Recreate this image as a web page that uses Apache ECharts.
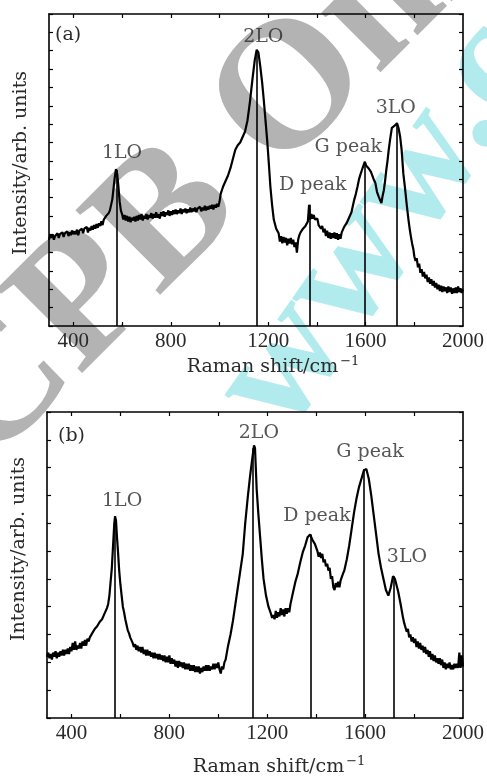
<!DOCTYPE html>
<html>
<head>
<meta charset="utf-8">
<script src="https://cdn.jsdelivr.net/npm/echarts@6/dist/echarts.min.js"></script>
<style>
  html, body { margin: 0; padding: 0; background: #fff; }
  #main { width: 487px; height: 778px; }
</style>
</head>
<body>
<div id="main"></div>
<script>
// [Raman shift (cm-1), intensity (arb. units, in y-tick steps)]
var spectrumA = [
  [300,4.7],[305,4.95],[310,4.8],[315,5.0],[320,4.7],[325,4.9],[330,4.85],[335,5.05],[340,4.8],[345,5.0],
  [350,4.9],[355,5.1],[360,4.85],[365,5.05],[370,4.95],[375,5.15],[380,4.9],[385,5.1],[390,4.95],[395,5.2],
  [400,5.0],[405,5.15],[410,5.0],[415,5.25],[420,4.95],[425,5.2],[430,5.1],[435,5.3],[440,5.05],[445,5.3],
  [450,5.2],[455,5.4],[460,5.1],[465,5.35],[470,5.2],[475,5.45],[480,5.25],[485,5.5],[490,5.3],[495,5.55],
  [500,5.35],[505,5.6],[510,5.45],[515,5.7],[520,5.5],[525,5.8],[530,5.75],[535,6.0],[540,5.9],[545,6.15],
  [550,6.3],[555,6.6],[560,6.9],[565,7.5],[570,8.1],[575,8.55],[580,8.3],[585,7.6],[590,6.8],[595,6.3],
  [600,6.1],[605,5.8],[610,6.05],[615,5.75],[620,6.0],[625,5.7],[630,5.95],[635,5.65],[640,5.9],[645,5.75],
  [650,5.95],[655,5.7],[660,6.0],[665,5.75],[670,6.05],[675,5.8],[680,6.1],[685,5.75],[690,6.0],[695,5.85],
  [700,6.1],[705,5.8],[710,6.05],[715,5.9],[720,6.15],[725,5.85],[730,6.1],[735,5.9],[740,6.2],[745,5.9],
  [750,6.1],[755,5.85],[760,6.2],[765,6.0],[770,6.25],[775,5.95],[780,6.2],[785,6.05],[790,6.3],[795,6.0],
  [800,6.25],[805,6.05],[810,6.3],[815,6.1],[820,6.35],[825,6.1],[830,6.3],[835,6.15],[840,6.4],[845,6.1],
  [850,6.35],[855,6.2],[860,6.4],[865,6.15],[870,6.35],[875,6.2],[880,6.45],[885,6.2],[890,6.4],[895,6.25],
  [900,6.45],[905,6.2],[910,6.4],[915,6.3],[920,6.5],[925,6.25],[930,6.45],[935,6.3],[940,6.55],[945,6.3],
  [950,6.5],[955,6.35],[960,6.55],[965,6.4],[970,6.6],[975,6.35],[980,6.6],[985,6.45],[990,6.65],[995,6.5],
  [1000,6.75],[1005,7.2],[1015,7.6],[1025,7.9],[1035,8.2],[1045,8.6],[1055,9.1],[1065,9.6],[1075,9.85],[1085,10.0],
  [1095,10.3],[1105,10.6],[1115,11.2],[1125,12.2],[1135,13.4],[1145,14.5],[1153,15.05],[1160,14.9],[1167,14.2],[1175,13.3],
  [1182,12.3],[1189,11.2],[1196,10.1],[1203,8.8],[1209,7.6],[1216,6.6],[1223,5.8],[1233,5.3],[1243,5.05],[1248,4.6],
  [1253,4.9],[1258,4.5],[1263,4.85],[1268,4.55],[1273,4.8],[1278,4.4],[1283,4.75],[1288,4.5],[1293,4.8],[1298,4.45],
  [1303,4.7],[1308,4.3],[1313,4.55],[1318,4.0],[1323,4.7],[1328,4.95],[1333,5.1],[1338,5.0],[1343,5.3],[1348,5.2],
  [1353,5.45],[1358,5.35],[1363,5.7],[1368,6.6],[1372,5.8],[1377,6.1],[1382,5.85],[1387,6.05],[1392,5.8],[1397,5.7],
  [1402,5.85],[1407,5.5],[1412,5.6],[1417,5.3],[1422,5.45],[1427,5.1],[1432,5.3],[1437,4.9],[1442,5.2],[1447,4.8],
  [1452,5.1],[1457,4.75],[1462,5.05],[1467,4.8],[1472,5.1],[1477,4.75],[1482,5.05],[1487,4.7],[1492,5.0],[1497,4.75],
  [1502,5.1],[1507,5.0],[1512,5.4],[1517,5.3],[1522,5.6],[1527,5.55],[1532,5.9],[1537,5.85],[1542,6.2],[1547,6.3],
  [1553,6.86],[1560,7.2],[1567,7.6],[1573,8.0],[1580,8.3],[1585,8.5],[1590,8.7],[1597,8.95],[1602,8.75],[1607,8.85],
  [1612,8.6],[1617,8.65],[1622,8.4],[1627,8.3],[1633,8.0],[1640,7.8],[1647,7.3],[1654,7.05],[1660,6.85],[1665,6.7],
  [1670,7.1],[1675,7.4],[1680,7.9],[1685,8.5],[1690,9.0],[1695,9.6],[1701,10.2],[1708,10.8],[1713,10.7],[1718,10.9],
  [1723,10.8],[1729,11.05],[1735,10.8],[1742,10.3],[1748,9.6],[1755,8.3],[1762,7.5],[1769,6.6],[1776,5.8],[1781,5.3],
  [1786,4.87],[1791,4.5],[1796,4.2],[1800,3.8],[1805,3.55],[1810,3.7],[1815,3.2],[1820,3.4],[1825,2.9],[1830,3.1],
  [1835,2.7],[1840,2.95],[1845,2.6],[1850,2.8],[1855,2.4],[1860,2.65],[1865,2.3],[1870,2.55],[1875,2.2],[1880,2.45],
  [1885,2.1],[1890,2.35],[1895,2.0],[1900,2.25],[1905,1.9],[1910,2.2],[1915,1.85],[1920,2.15],[1925,1.9],[1930,2.1],
  [1935,1.8],[1940,2.15],[1945,1.85],[1950,2.1],[1955,1.75],[1960,2.05],[1965,1.8],[1970,2.1],[1975,1.8],[1980,2.15],
  [1985,1.85],[1990,2.05],[1995,1.8],[2000,2.0]
];

var spectrumB = [
  [300,2.2],[305,2.35],[310,2.15],[315,2.3],[320,2.1],[325,2.35],[330,2.2],[335,2.4],[340,2.15],[345,2.35],
  [350,2.2],[355,2.4],[360,2.25],[365,2.45],[370,2.25],[375,2.45],[380,2.3],[385,2.5],[390,2.3],[395,2.55],
  [400,2.4],[405,2.7],[410,2.45],[415,2.75],[420,2.45],[425,2.6],[430,2.5],[435,2.7],[440,2.5],[445,2.75],
  [450,2.6],[455,2.8],[460,2.6],[465,2.85],[470,2.75],[475,2.9],[480,2.85],[485,3.05],[490,3.0],[495,3.2],
  [500,3.15],[505,3.3],[510,3.25],[515,3.45],[520,3.4],[525,3.55],[530,3.55],[535,3.75],[540,3.8],[545,3.95],
  [550,4.1],[555,4.4],[560,4.9],[565,5.4],[570,6.2],[575,7.0],[578,7.25],[582,7.1],[586,6.5],[590,6.0],
  [595,5.3],[600,4.8],[605,4.4],[610,4.0],[615,3.8],[620,3.55],[625,3.35],[630,3.15],[635,3.05],[640,2.9],
  [645,2.85],[650,2.7],[655,2.55],[660,2.65],[665,2.45],[670,2.6],[675,2.4],[680,2.55],[685,2.35],[690,2.55],
  [695,2.3],[700,2.45],[705,2.25],[710,2.45],[715,2.25],[720,2.4],[725,2.2],[730,2.35],[735,2.15],[740,2.35],
  [745,2.15],[750,2.3],[755,2.1],[760,2.3],[765,2.1],[770,2.25],[775,2.05],[780,2.25],[785,2.0],[790,2.2],
  [795,2.0],[800,2.25],[805,1.95],[810,2.15],[815,1.95],[820,2.1],[825,1.85],[830,2.05],[835,1.8],[840,2.05],
  [845,1.85],[850,2.0],[855,1.8],[860,2.0],[865,1.75],[870,1.95],[875,1.75],[880,1.95],[885,1.7],[890,1.9],
  [895,1.7],[900,1.9],[905,1.65],[910,1.85],[915,1.65],[920,1.85],[925,1.6],[930,1.8],[935,1.65],[940,1.85],
  [945,1.7],[950,1.9],[955,1.7],[960,1.9],[965,1.7],[970,1.85],[975,1.75],[980,1.95],[985,1.75],[990,1.95],
  [995,1.8],[1000,2.0],[1005,1.75],[1010,1.6],[1015,1.85],[1020,1.75],[1025,2.0],[1030,2.1],[1040,2.6],[1050,3.0],
  [1060,3.5],[1070,4.1],[1080,4.7],[1090,5.3],[1100,5.9],[1110,7.0],[1120,7.9],[1130,8.7],[1140,9.4],[1146,9.8],
  [1150,9.7],[1157,8.2],[1164,7.3],[1171,6.5],[1178,5.7],[1185,5.0],[1195,4.4],[1205,4.0],[1215,3.75],[1220,3.6],
  [1225,3.7],[1230,3.55],[1235,3.85],[1240,3.6],[1245,3.8],[1250,3.65],[1255,3.95],[1260,3.7],[1265,3.9],[1270,3.65],
  [1275,3.95],[1280,3.75],[1285,3.95],[1290,3.8],[1295,4.1],[1300,4.3],[1305,4.5],[1315,4.9],[1325,5.2],[1335,5.6],
  [1345,5.95],[1355,6.2],[1365,6.5],[1375,6.6],[1385,6.4],[1395,6.25],[1405,6.0],[1410,5.8],[1415,5.95],[1420,5.75],
  [1425,5.9],[1430,5.6],[1435,5.7],[1440,5.45],[1445,5.55],[1450,5.3],[1455,5.4],[1460,5.0],[1465,5.1],[1470,4.7],
  [1475,4.6],[1480,4.85],[1485,4.7],[1490,4.9],[1495,4.7],[1500,4.95],[1505,5.0],[1510,5.2],[1515,5.3],[1520,5.5],
  [1525,5.7],[1535,6.2],[1545,6.8],[1555,7.4],[1565,7.9],[1575,8.3],[1585,8.6],[1595,8.9],[1605,8.95],[1615,8.6],
  [1625,8.0],[1635,7.3],[1645,6.6],[1655,5.9],[1665,5.4],[1675,5.0],[1685,4.6],[1695,4.4],[1705,4.7],[1714,5.1],
  [1722,5.0],[1735,4.55],[1745,4.1],[1755,3.6],[1760,3.4],[1765,3.35],[1770,3.1],[1775,3.2],[1780,2.9],[1785,3.0],
  [1790,2.75],[1795,2.9],[1800,2.7],[1805,2.85],[1810,2.55],[1815,2.75],[1820,2.5],[1825,2.7],[1830,2.45],[1835,2.6],
  [1840,2.35],[1845,2.55],[1850,2.3],[1855,2.45],[1860,2.2],[1865,2.4],[1870,2.1],[1875,2.3],[1880,2.05],[1885,2.25],
  [1890,2.0],[1895,2.15],[1900,1.95],[1905,2.15],[1910,1.9],[1915,2.1],[1920,1.8],[1925,2.0],[1930,1.75],[1935,1.95],
  [1940,1.8],[1945,2.0],[1950,1.75],[1955,1.9],[1960,1.75],[1965,1.95],[1970,1.8],[1975,1.95],[1980,1.8],[1985,2.35],
  [1990,1.8],[1995,2.25],[2000,1.85]
];

// assigned peaks: name, position, height of the drop line
var peakNames = ['1LO', '2LO', 'D peak', 'G peak', '3LO'];
var peakShiftA = [577, 1153, 1370, 1597, 1728];
var peakTopA = [8.5, 15.0, 6.6, 8.9, 11.0];
var peakShiftB = [577, 1142, 1378, 1593, 1715];
var peakTopB = [7.25, 9.7, 6.6, 8.95, 5.1];
// where the peak names sit (data coords)
var labelPosA = [[600, 9.43], [1180, 15.75], [1383, 7.68], [1529, 9.75], [1724, 11.88]];
var labelPosB = [[607, 7.79], [1166, 10.25], [1403, 7.26], [1620, 9.57], [1771, 5.77]];

var xTickLabels = [400, 800, 1200, 1600, 2000];
var xTickMarks = [400, 600, 800, 1000, 1200, 1400, 1600, 1800];

var serif = 'DejaVu Serif';
var digits = 'Liberation Serif';
var ink = '#2a2a2a';

function dropLines(xs, tops) {
    return xs.map(function (x, i) { return [{ coord: [x, 0] }, { coord: [x, tops[i]] }]; });
}
function labelPoints(pos) {
    return pos.map(function (p, i) { return { name: peakNames[i], value: p }; });
}

function xAxes(grid, nameGap, shift) {
    var common = {
        type: 'value', gridIndex: grid, min: 300, max: 2000,
        axisLine: { show: true, onZero: false, lineStyle: { color: '#000', width: 1.6 } },
        axisTick: { show: true, inside: true, length: 4, customValues: xTickMarks, lineStyle: { color: '#000', width: 1.2 } },
        splitLine: { show: false }
    };
    return [
        Object.assign({}, common, {
            position: 'bottom',
            axisLabel: {
                margin: 5, color: ink, fontFamily: digits, fontSize: 21,
                customValues: xTickLabels, showMaxLabel: true,
                formatter: function (v) { return String(v); }
            },
            name: '{a|Raman shift/cm}{s|−1}',
            nameLocation: 'middle', nameGap: nameGap,
            nameTextStyle: {
                color: ink, padding: [0, 0, 0, shift],
                rich: {
                    a: { fontFamily: serif, fontSize: 19, color: ink },
                    s: { fontFamily: serif, fontSize: 13, color: ink, verticalAlign: 'top', padding: [0, 0, 12, 2] }
                }
            }
        }),
        Object.assign({}, common, { position: 'top', axisLabel: { show: false } })
    ];
}

function yAxes(grid, max, shift) {
    var common = {
        type: 'value', gridIndex: grid, min: 0, max: max, interval: 1,
        axisLine: { show: true, onZero: false, lineStyle: { color: '#000', width: 1.6 } },
        axisTick: { show: true, inside: true, length: 4, lineStyle: { color: '#000', width: 1.2 } },
        axisLabel: { show: false },
        splitLine: { show: false }
    };
    return [
        Object.assign({}, common, {
            position: 'left',
            name: 'Intensity/arb. units', nameLocation: 'middle', nameGap: 18,
            nameTextStyle: { color: ink, fontFamily: serif, fontSize: 19, padding: [0, 0, 0, shift] }
        }),
        Object.assign({}, common, { position: 'right' })
    ];
}

function spectrum(axis, data, peakXs, peakTops) {
    return {
        type: 'line', xAxisIndex: axis, yAxisIndex: axis,
        data: data, showSymbol: false, symbol: 'none',
        lineStyle: { color: '#000', width: 2.2 }, z: 3,
        markLine: {
            silent: true, symbol: ['none', 'none'], label: { show: false },
            lineStyle: { color: '#000', width: 1.6, type: 'solid' },
            data: dropLines(peakXs, peakTops)
        }
    };
}

function peakLabels(axis, pos) {
    return {
        type: 'scatter', xAxisIndex: axis, yAxisIndex: axis,
        data: labelPoints(pos), symbolSize: 1, itemStyle: { color: 'rgba(0,0,0,0)' },
        label: {
            show: true, position: 'inside', formatter: '{b}',
            color: ink, fontFamily: serif, fontSize: 19
        }, z: 4
    };
}

var wmGray = { font: 'bold 183px "Liberation Serif"', fill: '#b3b3b3', align: 'left', verticalAlign: 'middle' };

var chart = echarts.init(document.getElementById('main'));
chart.setOption({
    animation: false,
    backgroundColor: '#fff',
    grid: [
        { left: 49, right: 19, top: 14, bottom: 452 },
        { left: 47, right: 24, top: 412, bottom: 57 }
    ],
    xAxis: xAxes(0, 29, 34).concat(xAxes(1, 37, 48)),
    yAxis: yAxes(0, 17, 14).concat(yAxes(1, 11, 32)),
    graphic: [
        // journal watermark behind the plots
        {
            type: 'text', x: -48, y: 436, rotation: Math.PI / 4, z: -10, silent: true,
            style: Object.assign({ text: 'CPB' }, wmGray)
        },
        {
            type: 'text', x: 243, y: 143, rotation: Math.PI / 4, z: -10, silent: true,
            style: Object.assign({ text: 'Online' }, wmGray)
        },
        {
            type: 'text', x: 251, y: 414, rotation: 55 * Math.PI / 180, z: -10, silent: true,
            style: { text: 'www.cpb.iphy.ac.cn', font: 'bold 163px "Liberation Serif"', fill: '#b1ebee', align: 'left', verticalAlign: 'middle' }
        },
        {
            type: 'text', x: 55, y: 35, z: 5,
            style: { text: '(a)', font: '19px "DejaVu Serif"', fill: ink, verticalAlign: 'middle' }
        },
        {
            type: 'text', x: 58, y: 436, z: 5,
            style: { text: '(b)', font: '19px "DejaVu Serif"', fill: ink, verticalAlign: 'middle' }
        }
    ],
    series: [
        spectrum(0, spectrumA, peakShiftA, peakTopA),
        peakLabels(0, labelPosA),
        spectrum(2, spectrumB, peakShiftB, peakTopB),
        peakLabels(2, labelPosB)
    ]
});
</script>
</body>
</html>
